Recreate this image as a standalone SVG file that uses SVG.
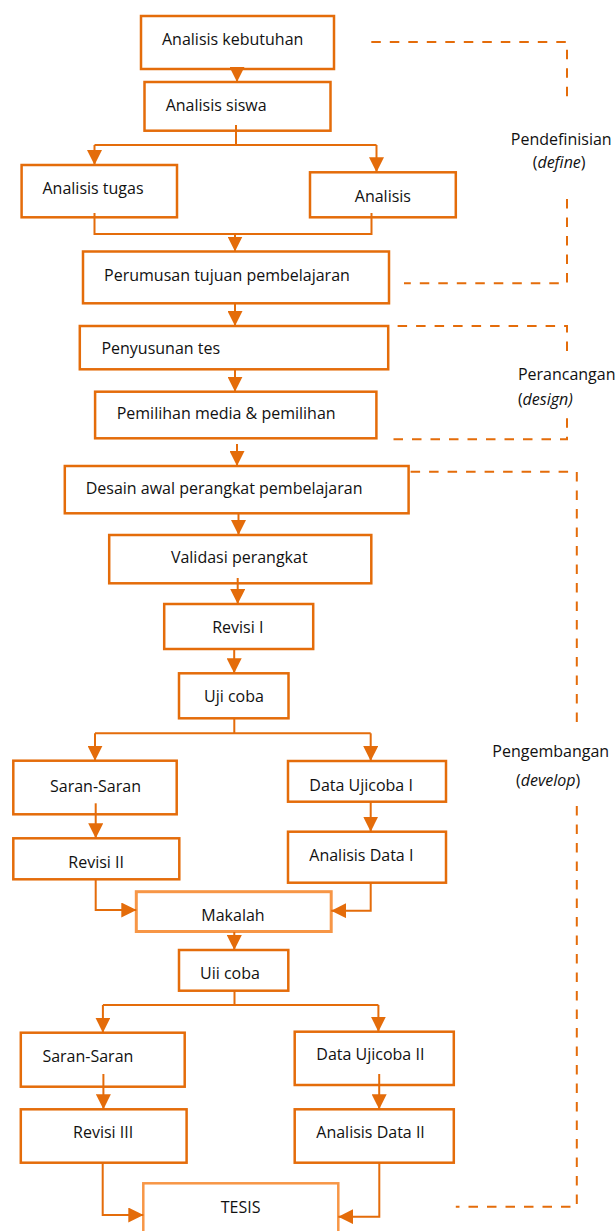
<svg xmlns="http://www.w3.org/2000/svg" width="616" height="1231" viewBox="0 0 616 1231">
<style>
.box{fill:#fff;stroke:#E46C0A;stroke-width:2.5}
.box2{fill:#fff;stroke:#F79646;stroke-width:3}
.t{font-family:"Open Sans",sans-serif;font-size:16px;fill:#111}
.c{fill:none;stroke:#E46C0A;stroke-width:2}
.d{fill:none;stroke:#E46C0A;stroke-width:2;stroke-dasharray:9.5 9}
.i{font-style:italic}
</style>
<defs>
<marker id="ah" viewBox="0 0 15 15" refX="15" refY="7.5" markerWidth="15" markerHeight="15" markerUnits="userSpaceOnUse" orient="auto">
<path d="M0,0 L15,7.5 L0,15 z" fill="#E46C0A"/>
</marker>
</defs>
<rect width="616" height="1231" fill="#fff"/>
<g id="nodes">
<g id="n1"><rect class="box" x="141" y="16" width="193" height="53"/><text class="t" x="162" y="45">Analisis kebutuhan</text></g>
<g id="n2"><rect class="box" x="144.5" y="82" width="186" height="48.7"/><text class="t" x="165.7" y="111">Analisis siswa</text></g>
<g id="n3"><rect class="box" x="21.6" y="165" width="155.4" height="52.3"/><text class="t" x="42.5" y="194">Analisis tugas</text></g>
<g id="n4"><rect class="box" x="310" y="172.3" width="145.8" height="45"/><text class="t" x="354.8" y="201.7">Analisis</text></g>
<g id="n5"><rect class="box" x="83" y="251.5" width="306" height="51.8"/><text class="t" x="104.1" y="280.7">Perumusan tujuan pembelajaran</text></g>
<g id="n6"><rect class="box" x="79.8" y="326" width="308.4" height="43.3"/><text class="t" x="101.4" y="354.3">Penyusunan tes</text></g>
<g id="n7"><rect class="box" x="95.1" y="391.7" width="281.3" height="46.6"/><text class="t" x="116.7" y="419.3">Pemilihan media &amp; pemilihan</text></g>
<g id="n8"><rect class="box" x="64.8" y="466" width="343.8" height="47.3"/><text class="t" x="85.7" y="494">Desain awal perangkat pembelajaran</text></g>
<g id="n9"><rect class="box" x="109.2" y="535" width="262.1" height="48.3"/><text class="t" x="170.9" y="563.3">Validasi perangkat</text></g>
<g id="n10"><rect class="box" x="164.2" y="604" width="149" height="45"/><text class="t" x="212.2" y="632.7">Revisi I</text></g>
<g id="n11"><rect class="box" x="179" y="673.3" width="109.5" height="45"/><text class="t" x="204" y="701.7">Uji coba</text></g>
<g id="n12"><rect class="box" x="13.3" y="760.7" width="163.4" height="53.6"/><text class="t" x="50" y="791.7">Saran-Saran</text></g>
<g id="n13"><rect class="box" x="288" y="761" width="158" height="40.7"/><text class="t" x="309.3" y="791">Data Ujicoba I</text></g>
<g id="n14"><rect class="box" x="13.3" y="838.3" width="166" height="41"/><text class="t" x="68.3" y="868.3">Revisi II</text></g>
<g id="n15"><rect class="box" x="288" y="831.7" width="158" height="51"/><text class="t" x="309.3" y="860.7">Analisis Data I</text></g>
<g id="n16"><rect class="box2" x="136.3" y="891.7" width="194.9" height="39.8"/><text class="t" x="201.3" y="921">Makalah</text></g>
<g id="n17"><rect class="box" x="179" y="950" width="109.3" height="40.7"/><text class="t" x="200" y="979.3">Uii coba</text></g>
<g id="n18"><rect class="box" x="20.8" y="1032.7" width="163.9" height="54"/><text class="t" x="42.4" y="1062.3">Saran-Saran</text></g>
<g id="n19"><rect class="box" x="294.7" y="1031.7" width="159.1" height="53.3"/><text class="t" x="316.3" y="1060">Data Ujicoba II</text></g>
<g id="n20"><rect class="box" x="20.8" y="1109.3" width="165.8" height="53.4"/><text class="t" x="73.1" y="1138.3">Revisi III</text></g>
<g id="n21"><rect class="box" x="294.7" y="1109.3" width="159.1" height="53.4"/><text class="t" x="316.3" y="1138.3">Analisis Data II</text></g>
<g id="n22"><rect class="box2" x="143.3" y="1183.3" width="195" height="60" style="stroke-width:2.5"/><text class="t" x="220.7" y="1213.3">TESIS</text></g>
</g>
<g id="connectors">
<path class="c" d="M237,69 V82" marker-end="url(#ah)"/>
<path class="c" d="M236,125 V145 M94.5,145 H376.5"/>
<path class="c" d="M94.5,145 V165" marker-end="url(#ah)"/>
<path class="c" d="M376.5,145 V172.3" marker-end="url(#ah)"/>
<path class="c" d="M94.5,213 V234 H371.5 V213"/>
<path class="c" d="M235,234 V251.5" marker-end="url(#ah)"/>
<path class="c" d="M235,303.3 V326" marker-end="url(#ah)"/>
<path class="c" d="M235,369.3 V391.7" marker-end="url(#ah)"/>
<path class="c" d="M237,444 V466" marker-end="url(#ah)"/>
<path class="c" d="M238.5,513.3 V535" marker-end="url(#ah)"/>
<path class="c" d="M237.7,578 V604" marker-end="url(#ah)"/>
<path class="c" d="M234.2,649 V673.3" marker-end="url(#ah)"/>
<path class="c" d="M234.3,718.3 V733.3 M95,733.3 H370.7"/>
<path class="c" d="M95,733.3 V760.7" marker-end="url(#ah)"/>
<path class="c" d="M370.7,733.3 V761" marker-end="url(#ah)"/>
<path class="c" d="M95.7,803.3 V838.3" marker-end="url(#ah)"/>
<path class="c" d="M370.7,801.7 V831.7" marker-end="url(#ah)"/>
<path class="c" d="M95.7,879.3 V910 H136.3" marker-end="url(#ah)"/>
<path class="c" d="M370.7,882.7 V910.7 H331.2" marker-end="url(#ah)"/>
<path class="c" d="M234.3,932 V950" marker-end="url(#ah)"/>
<path class="c" d="M234.5,990.7 V1005 M102.9,1005 H378.4"/>
<path class="c" d="M102.9,1005 V1032.7" marker-end="url(#ah)"/>
<path class="c" d="M378.4,1005 V1031.7" marker-end="url(#ah)"/>
<path class="c" d="M103.4,1074 V1109.3" marker-end="url(#ah)"/>
<path class="c" d="M379.2,1074 V1109.3" marker-end="url(#ah)"/>
<path class="c" d="M102.7,1162.7 V1215 H143.3" marker-end="url(#ah)"/>
<path class="c" d="M379.3,1162.7 V1216.7 H338.3" marker-end="url(#ah)"/>
<path class="d" d="M371.3,42 H567 V102.7"/>
<path class="d" d="M567,199 V283.3 H404"/>
<path class="d" d="M397.6,326 H567 V355"/>
<path class="d" d="M567,418.3 V439.3 H389"/>
<path class="d" d="M410.6,471.7 H576.8 V725"/>
<path class="d" d="M576.8,806 V1206.7 H455.8"/>
</g>
<g id="labels">
<text class="t" x="510.8" y="145">Pendefinisian</text>
<text class="t" x="532.7" y="167.7">(<tspan class="i">define</tspan>)</text>
<text class="t" x="517.9" y="380">Perancangan</text>
<text class="t" x="517.9" y="405">(<tspan class="i">design)</tspan></text>
<text class="t" x="492.3" y="757.3">Pengembangan</text>
<text class="t" x="516" y="786">(<tspan class="i">develop</tspan>)</text>
</g>
</svg>
